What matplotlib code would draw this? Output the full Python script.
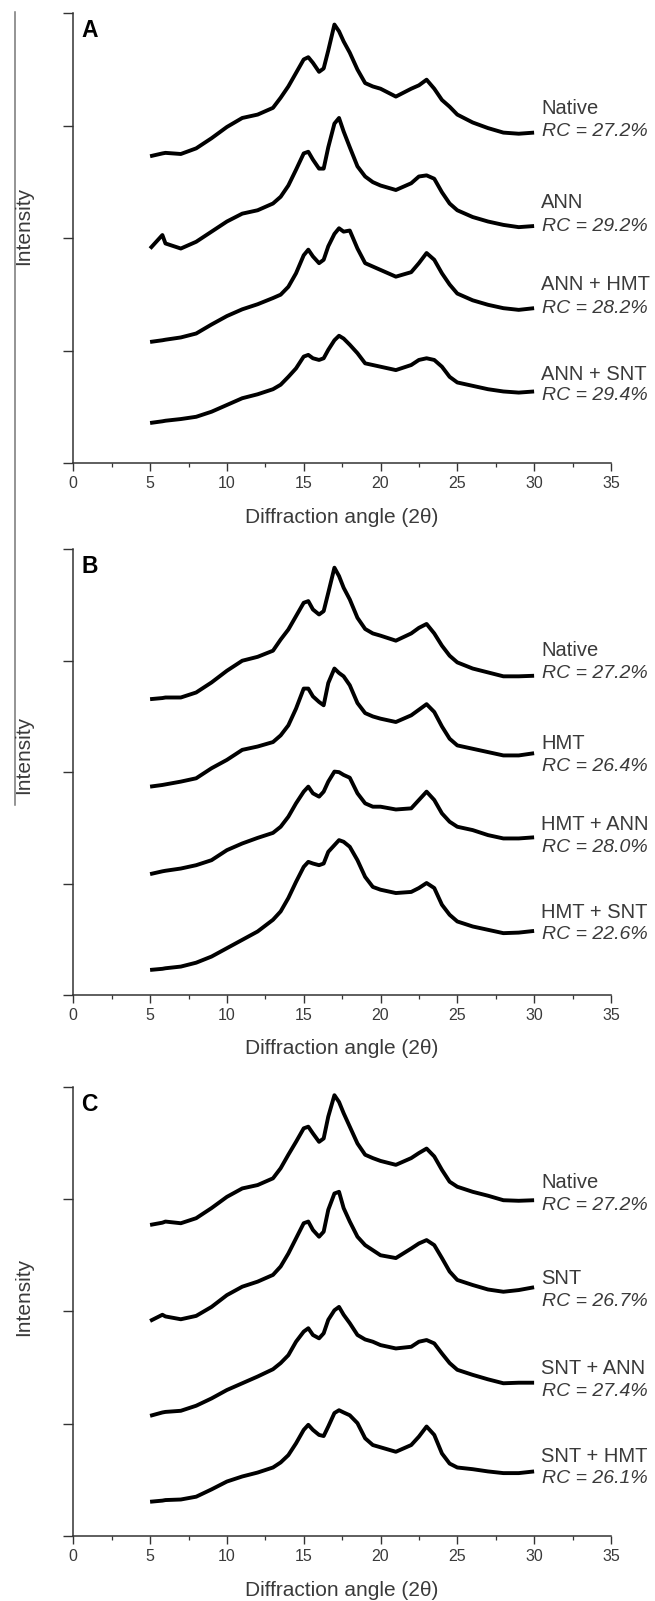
import matplotlib
matplotlib.use('Agg')
import matplotlib.pyplot as plt
from matplotlib.lines import Line2D
from matplotlib.ticker import MultipleLocator

plt.rcParams['font.family'] = ['Liberation Sans', 'DejaVu Sans']

# ---------------- data (intensity, arbitrary units) ----------------
angle = [5, 5.8, 6, 7, 8, 9, 10, 11, 12, 13, 13.5, 14, 14.5, 15, 15.3, 15.6,
         16, 16.3, 16.6, 17, 17.3, 17.6, 18, 18.5, 19, 19.5, 20, 21, 22, 22.5,
         23, 23.5, 24, 24.5, 25, 26, 27, 28, 29, 30]

# Panel A
a_native = [2730, 2755, 2760, 2750, 2800, 2890, 2990, 3070, 3100, 3160, 3250, 3350, 3470, 3590, 3610, 3560,
            3480, 3510, 3670, 3900, 3840, 3750, 3650, 3500, 3380, 3350, 3330, 3260, 3330, 3360,
            3410, 3330, 3230, 3170, 3100, 3030, 2980, 2940, 2930, 2940]
a_ann = [1910, 2030, 1955, 1910, 1970, 2060, 2150, 2220, 2250, 2310, 2370, 2470, 2610, 2755, 2770, 2700,
         2620, 2620, 2810, 3020, 3070, 2950, 2810, 2640, 2550, 2500, 2470, 2430, 2490, 2550,
         2560, 2530, 2410, 2310, 2250, 2190, 2150, 2120, 2100, 2110]
a_ann_hmt = [1080, 1095, 1100, 1120, 1155, 1235, 1310, 1370, 1415, 1470, 1500, 1570, 1690, 1850, 1900, 1840,
             1780, 1810, 1930, 2040, 2090, 2060, 2070, 1910, 1780, 1750, 1720, 1660, 1700, 1780,
             1870, 1810, 1690, 1590, 1510, 1450, 1410, 1380, 1365, 1380]
a_ann_snt = [360, 375, 380, 395, 415, 460, 520, 580, 615, 660, 700, 770, 845, 950, 965, 935,
             920, 935, 1010, 1095, 1135, 1110, 1055, 980, 890, 875, 860, 830, 875, 920,
             935, 920, 860, 770, 720, 690, 660, 640, 630, 640]

# Panel B
b_native = [2655, 2665, 2670, 2670, 2715, 2805, 2910, 3000, 3035, 3090, 3190, 3280, 3400, 3520, 3535, 3460,
            3415, 3445, 3610, 3835, 3760, 3655, 3550, 3385, 3285, 3245, 3225, 3180, 3245, 3295,
            3330, 3245, 3135, 3045, 2985, 2930, 2895, 2860, 2860, 2865]
b_hmt = [1870, 1885, 1890, 1915, 1945, 2035, 2110, 2200, 2230, 2270, 2330, 2420, 2570, 2750, 2750, 2680,
         2630, 2600, 2800, 2930, 2890, 2860, 2780, 2620, 2530, 2500, 2480, 2450, 2510, 2560,
         2610, 2540, 2410, 2300, 2240, 2210, 2180, 2150, 2150, 2170]
b_hmt_ann = [1085, 1110, 1115, 1135, 1165, 1210, 1300, 1360, 1410, 1455, 1510, 1600, 1720, 1825, 1870, 1810,
             1780, 1825, 1915, 2005, 2000, 1975, 1950, 1810, 1720, 1690, 1690, 1665, 1675, 1750,
             1825, 1750, 1630, 1555, 1510, 1480, 1435, 1405, 1405, 1415]
b_hmt_snt = [225, 235, 240, 255, 290, 345, 420, 495, 570, 675, 750, 870, 1015, 1150, 1195, 1180,
             1165, 1180, 1285, 1345, 1390, 1375, 1330, 1210, 1060, 970, 945, 915, 925, 960,
             1005, 960, 810, 720, 660, 615, 585, 555, 560, 575]

# Panel C
c_native = [2770, 2790, 2800, 2785, 2830, 2920, 3020, 3095, 3125, 3185, 3275, 3395, 3510, 3630, 3645, 3585,
            3510, 3540, 3735, 3925, 3865, 3765, 3645, 3495, 3395, 3365, 3340, 3305, 3365, 3410,
            3450, 3380, 3260, 3155, 3110, 3065, 3030, 2990, 2985, 2990]
c_snt = [1915, 1970, 1955, 1930, 1960, 2040, 2145, 2220, 2265, 2325, 2400, 2515, 2650, 2785, 2800, 2725,
         2665, 2710, 2905, 3050, 3065, 2920, 2800, 2665, 2590, 2545, 2500, 2475, 2560, 2605,
         2635, 2590, 2475, 2355, 2280, 2235, 2195, 2175, 2190, 2215]
c_snt_ann = [1070, 1100, 1105, 1115, 1160, 1225, 1300, 1360, 1420, 1485, 1540, 1610, 1730, 1820, 1850, 1790,
             1760, 1805, 1925, 2010, 2040, 1970, 1895, 1790, 1750, 1730, 1700, 1670, 1685, 1730,
             1745, 1715, 1625, 1540, 1480, 1435, 1395, 1360, 1365, 1365]
c_snt_hmt = [305, 315, 320, 325, 350, 415, 485, 530, 565, 610, 655, 720, 825, 945, 990, 945,
             900, 890, 975, 1095, 1120, 1100, 1075, 1005, 870, 810, 790, 750, 810, 885,
             975, 900, 735, 645, 610, 595, 575, 560, 560, 575]

a_names = ['Native', 'ANN', 'ANN + HMT', 'ANN + SNT']
a_rc = ['RC = 27.2%', 'RC = 29.2%', 'RC = 28.2%', 'RC = 29.4%']
b_names = ['Native', 'HMT', 'HMT + ANN', 'HMT + SNT']
b_rc = ['RC = 27.2%', 'RC = 26.4%', 'RC = 28.0%', 'RC = 22.6%']
c_names = ['Native', 'SNT', 'SNT + ANN', 'SNT + HMT']
c_rc = ['RC = 27.2%', 'RC = 26.7%', 'RC = 27.4%', 'RC = 26.1%']

x_ticks = [0, 5, 10, 15, 20, 25, 30, 35]
y_ticks = [0, 1000, 2000, 3000, 4000]

# label anchor heights (data units)
a_name_y = [3152, 2315, 1586, 795]
a_rc_y = [2951, 2110, 1373, 600]
b_name_y = [3095, 2254, 1528, 740]
b_rc_y = [2888, 2054, 1327, 539]
c_name_y = [3144, 2292, 1489, 711]
c_rc_y = [2940, 2090, 1290, 510]

# ---------------- layout ----------------
W, H = 655, 1601
fig = plt.figure(figsize=(W / 100, H / 100), dpi=100)
AX_L, AX_R = 73.3, 610.9

panels = [
    dict(letter='A', top=13.3, bottom=463.5, ylab=226,
         curves=[a_native, a_ann, a_ann_hmt, a_ann_snt], names=a_names, rc=a_rc,
         name_y=a_name_y, rc_y=a_rc_y),
    dict(letter='B', top=549.3, bottom=995.0, ylab=755,
         curves=[b_native, b_hmt, b_hmt_ann, b_hmt_snt], names=b_names, rc=b_rc,
         name_y=b_name_y, rc_y=b_rc_y),
    dict(letter='C', top=1086.8, bottom=1536.0, ylab=1297,
         curves=[c_native, c_snt, c_snt_ann, c_snt_hmt], names=c_names, rc=c_rc,
         name_y=c_name_y, rc_y=c_rc_y),
]

AXC = '#333333'
TXC = '#3a3a3a'

for p in panels:
    ax = fig.add_axes([AX_L / W, 1 - p['bottom'] / H, (AX_R - AX_L) / W,
                       (p['bottom'] - p['top']) / H])
    for vals in p['curves']:
        ax.plot(angle, vals, color='black', lw=2.8, solid_joinstyle='round',
                solid_capstyle='butt')
    ax.set_xlim(0, 35)
    ax.set_ylim(0, 4000)
    ax.set_xticks(x_ticks)
    ax.set_xticklabels([str(t) for t in x_ticks])
    ax.xaxis.set_minor_locator(MultipleLocator(2.5))
    ax.set_yticks(y_ticks)
    ax.set_yticklabels([])
    for s in ['top', 'right']:
        ax.spines[s].set_visible(False)
    for s in ['left', 'bottom']:
        ax.spines[s].set_color(AXC)
        ax.spines[s].set_linewidth(1.1)
    ax.tick_params(axis='y', direction='out', length=7, width=1.0, color=AXC)
    ax.tick_params(axis='x', which='major', direction='out', length=5.5, width=1.0,
                   color=AXC, labelsize=11.5, labelcolor=TXC, pad=3.5)
    ax.tick_params(axis='x', which='minor', direction='out', length=3, width=0.9, color=AXC)
    ax.text(0.0149, 1 - 6 / (p['bottom'] - p['top']), p['letter'], transform=ax.transAxes,
            ha='left', va='top', fontsize=16.5, fontweight='bold', color='black')
    for nm, rc, ny, ry in zip(p['names'], p['rc'], p['name_y'], p['rc_y']):
        ax.text(30.45, ny, nm, ha='left', va='center', fontsize=14.5, color=TXC, clip_on=False)
        ax.text(30.5, ry, rc, ha='left', va='center', fontsize=14, style='italic',
                color=TXC, clip_on=False)
    fig.text((AX_L + AX_R) / 2 / W, 1 - (p['bottom'] + 54) / H, 'Diffraction angle (2θ)',
             ha='center', va='center', fontsize=15, color=TXC)
    fig.text(24 / W, 1 - p['ylab'] / H, 'Intensity', rotation=90, ha='center', va='center',
             fontsize=15, color=TXC)

fig.add_artist(Line2D([14.5 / W, 14.5 / W], [1 - 12 / H, 1 - 805 / H],
                      transform=fig.transFigure, color='#777777', lw=1.1))

fig.savefig('out.png', dpi=100)
